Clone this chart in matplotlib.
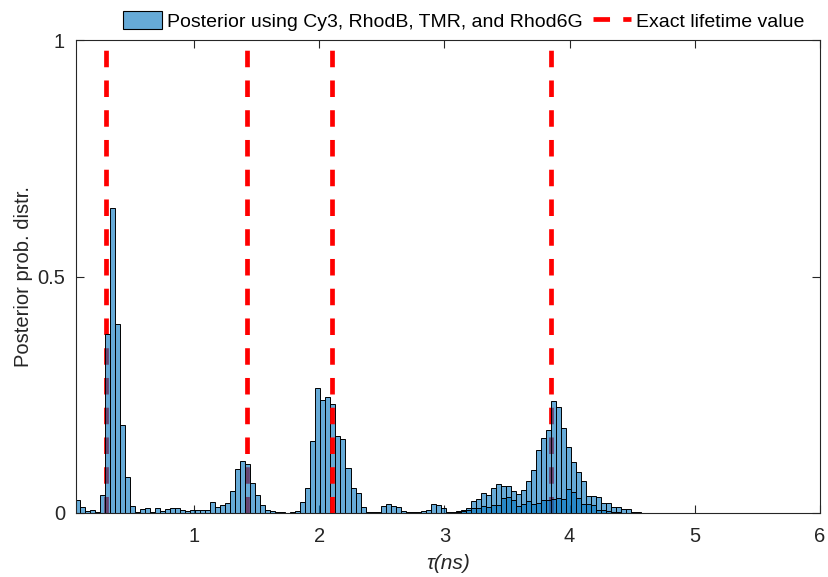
import numpy as np
import matplotlib.pyplot as plt
from matplotlib.patches import Patch
from matplotlib.lines import Line2D

plt.rcParams['font.family'] = ['Liberation Sans', 'DejaVu Sans']

# histogram bins (ns)
bin_start = 0.05
bin_width = 0.04

# posterior histogram heights, one value per bin
posterior = [
    0.027, 0.012, 0.004, 0.006, 0.003, 0.039, 0.378, 0.645, 0.400, 0.185,
    0.077, 0.015, 0.003, 0.008, 0.010, 0.002, 0.010, 0.004, 0.009, 0.011,
    0.011, 0.006, 0.004, 0.006, 0.006, 0.006, 0.006, 0.023, 0.012, 0.017,
    0.022, 0.046, 0.094, 0.110, 0.104, 0.064, 0.038, 0.016, 0.006, 0.004,
    0.002, 0.003, 0.001, 0.002, 0.005, 0.023, 0.053, 0.152, 0.265, 0.239,
    0.246, 0.230, 0.163, 0.156, 0.096, 0.052, 0.042, 0.013, 0.003, 0.003,
    0.003, 0.015, 0.018, 0.015, 0.012, 0.005, 0.002, 0.002, 0.002, 0.004,
    0.007, 0.018, 0.016, 0.011, 0.002, 0.002, 0.005, 0.007, 0.011, 0.026,
    0.029, 0.042, 0.038, 0.052, 0.061, 0.058, 0.058, 0.046, 0.040, 0.049,
    0.068, 0.091, 0.133, 0.158, 0.175, 0.237, 0.225, 0.179, 0.140, 0.108,
    0.087, 0.068, 0.036, 0.036, 0.033, 0.022, 0.022, 0.012, 0.013, 0.008,
    0.008, 0.003, 0.002, 0.001, 0.001, 0.001, 0.000, 0.001, 0.000, 0.001,
    0.001, 0.000, 0.000, 0.001, 0.000, 0.001, 0.000, 0.000, 0.001, 0.000,
    0.000, 0.000, 0.001, 0.000, 0.000, 0.000, 0.000, 0.001, 0.000, 0.000,
    0.000, 0.000, 0.000, 0.000, 0.000, 0.000, 0.000, 0.000, 0.000,
]

# second, broad posterior under the Rhod6G peak (starts at bin 76)
broad_first_bin = 76
broad = [
    0.002, 0.004, 0.006, 0.010, 0.010, 0.014, 0.013, 0.016, 0.016, 0.031,
    0.033, 0.028, 0.014, 0.020, 0.025, 0.020, 0.022, 0.027, 0.028, 0.030,
    0.032, 0.030, 0.050, 0.045, 0.032, 0.020, 0.018, 0.017, 0.007, 0.007,
    0.005, 0.003, 0.002, 0.001,
]

# exact lifetimes of Cy3, RhodB, TMR, Rhod6G (ns)
exact_lifetimes = [0.30, 1.42, 2.10, 3.85]

x_ticks = [1, 2, 3, 4, 5, 6]
y_ticks = [0, 0.5, 1]
y_tick_labels = ['0', '0.5', '1']

bar_color = (0, 0.447, 0.741, 0.6)

fig = plt.figure(figsize=(8.29, 5.77), dpi=100)
ax = fig.add_axes([76 / 829, 1 - 513 / 577, 744 / 829, 473 / 577])

left = bin_start + bin_width * np.arange(len(posterior))
for i, v in enumerate(exact_lifetimes):
    ax.plot([v, v], [0, 1], color='red', lw=3.4, ls=(0, (3.5, 2.8)),
            solid_capstyle='butt', dash_capstyle='butt',
            zorder=4 if i == 2 else 1)

ax.bar(left, posterior, width=bin_width, align='edge', color=bar_color,
       edgecolor='black', linewidth=0.7, zorder=2)
left_b = bin_start + bin_width * (broad_first_bin + np.arange(len(broad)))
ax.bar(left_b, broad, width=bin_width, align='edge', color=bar_color,
       edgecolor='black', linewidth=0.7, zorder=3)

ax.set_xlim(0.0575, 6)
ax.set_ylim(0, 1)
ax.set_xticks(x_ticks)
ax.set_yticks(y_ticks)
ax.set_yticklabels(y_tick_labels)
ax.tick_params(direction='in', top=True, right=True, length=6, width=0.8,
               labelsize=14.5, colors='#262626')
ax.tick_params(axis='x', pad=10)
ax.tick_params(axis='y', pad=8)
for s in ax.spines.values():
    s.set_color('#262626')
    s.set_linewidth(0.8)

ax.set_xlabel('τ(ns)', fontsize=15, style='italic', color='#262626', labelpad=6)
ax.set_ylabel('Posterior prob. distr.', fontsize=14.5, color='#262626', labelpad=3)

handles = [Patch(facecolor=bar_color, edgecolor='black', linewidth=0.8),
           Line2D([], [], color='red', lw=3.4, ls=(0, (3.5, 2.8)))]
labels = ['Posterior using Cy3, RhodB, TMR, and Rhod6G', 'Exact lifetime value']
fig.legend(handles, labels, loc='center', bbox_to_anchor=(464 / 829, 1 - 21 / 577),
           ncol=2, frameon=False, fontsize=14, handlelength=2.0, handleheight=1.0,
           handletextpad=0.25, columnspacing=0.5, borderpad=0)

fig.savefig('out.png', dpi=100)
